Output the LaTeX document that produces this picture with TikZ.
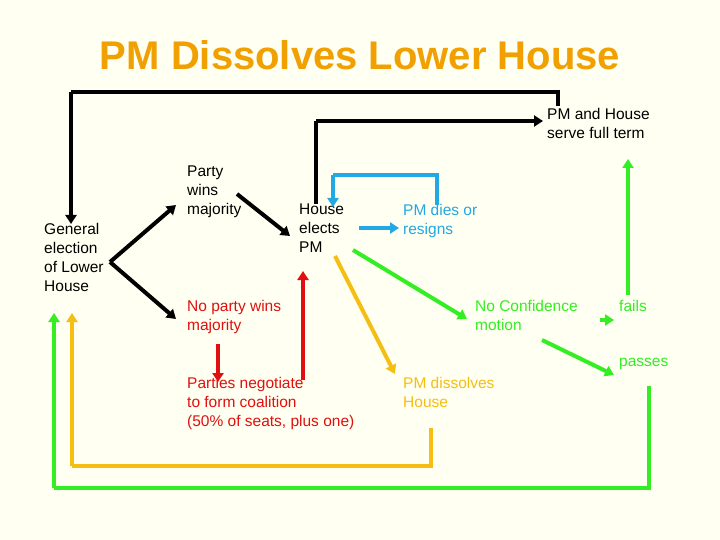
\documentclass[tikz,border=0pt]{standalone}
\usepackage{fontspec}
\setmainfont{Liberation Sans}
\usetikzlibrary{arrows.meta}
\definecolor{bg}{HTML}{FFFFF2}
\definecolor{ttl}{HTML}{F0A000}
\definecolor{yel}{HTML}{F5BE12}
\definecolor{grn}{HTML}{33EE22}
\definecolor{blu}{HTML}{22A8E2}
\definecolor{rd}{HTML}{E01010}
\begin{document}
\begin{tikzpicture}[x=1pt,y=-1pt,
  lbl/.style={anchor=north west,inner sep=0pt,align=left,font=\fontsize{15.5}{19}\selectfont},
  ln/.style={line width=4pt,-{Triangle[length=9pt,width=11pt]}},
  pl/.style={line width=4pt}]
\fill[bg] (0,0) rectangle (720,540);
\useasboundingbox (0,0) rectangle (720,540);
\node[font=\bfseries\fontsize{40}{44}\selectfont,text=ttl] (title) at (360,55) {PM Dissolves Lower House};
\node[lbl] (gen) at (44,223) {General\\election\\of Lower\\House};
\node[lbl] (party) at (187,166) {Party\\wins\\majority};
\node[lbl] (elect) at (299,204) {House\\elects\\PM};
\node[lbl,text=blu] (dies) at (403,204) {PM dies or\\resigns};
\node[lbl] (full) at (547,108) {PM and House\\serve full term};
\node[lbl,text=rd] (nop) at (187,300) {No party wins\\majority};
\node[lbl,text=grn] (nc) at (475,300) {No Confidence\\motion};
\node[lbl,text=grn] (fails) at (619,300) {fails};
\node[lbl,text=grn] (passes) at (619,358) {passes};
\node[lbl,text=rd] (neg) at (187,377) {Parties negotiate\\to form coalition\\(50\% of seats, plus one)};
\node[lbl,text=yel] (diss) at (403,377) {PM dissolves\\House};
% coordinates
\coordinate (a1) at (558,106); \coordinate (a2) at (558,92); \coordinate (a3) at (71,92); \coordinate (a4) at (71,224);
\coordinate (b1) at (316,204); \coordinate (b2) at (316,121); \coordinate (b3) at (543,121);
\coordinate (c1) at (437,205); \coordinate (c2) at (437,175); \coordinate (c3) at (333,175); \coordinate (c4) at (333,207);
\coordinate (g0) at (110,262);
% black
\draw[pl] (a1) -- (a2) -- (a3);
\draw[ln] (a3) -- (a4);
\draw[pl] (b1) -- (b2);
\draw[ln] (b2) -- (b3);
\draw[ln] (g0) -- (176,205);
\draw[ln] (g0) -- (176,319);
\draw[ln] (237,194) -- (290,236);
% blue
\draw[pl,blu] (c1) -- (c2) -- (c3);
\draw[ln,blu] (c3) -- (c4);
\draw[ln,blu] (359,228) -- (399,228);
% red
\draw[ln,rd] (218,344) -- (218,382);
\draw[ln,rd] (303,380) -- (303,271);
% yellow
\draw[ln,yel] (335,256) -- (395,374);
\draw[pl,yel] (431,428) -- (431,466) -- (72,466);
\draw[ln,yel] (72,466) -- (72,313);
% green
\draw[ln,grn] (353,250) -- (467,319);
\draw[ln,grn] (542,340) -- (614,375);
\draw[ln,grn] (600,320) -- (614,320);
\draw[ln,grn] (628,295) -- (628,159);
\draw[pl,grn] (649,386) -- (649,488) -- (54,488);
\draw[ln,grn] (54,488) -- (54,313);
\end{tikzpicture}
\end{document}
